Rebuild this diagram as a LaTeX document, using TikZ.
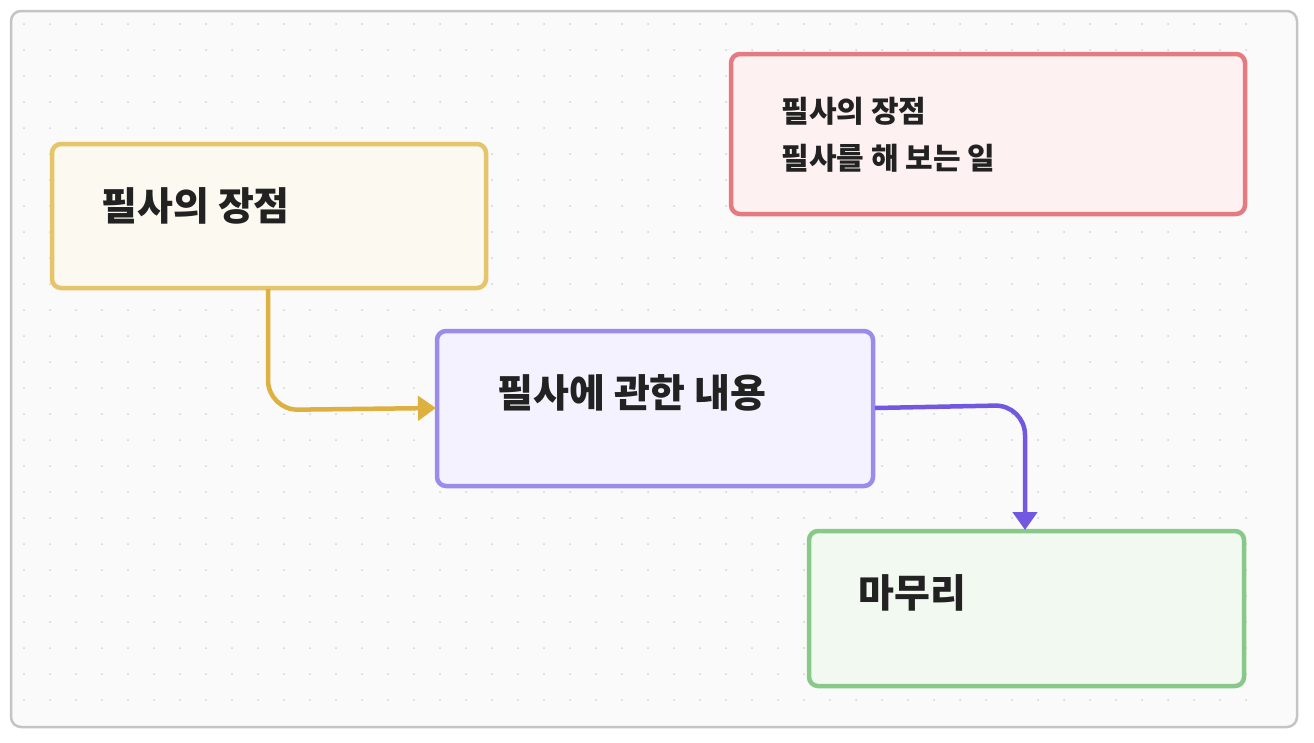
\documentclass[tikz,border=0pt]{standalone}
\usepackage{fontspec}
\newfontfamily\kr{Noto Sans CJK KR}
\usetikzlibrary{arrows.meta}
\definecolor{frameb}{HTML}{C4C4C4}
\definecolor{bg}{HTML}{FAFAFA}
\definecolor{yb}{HTML}{E5C46B}\definecolor{yf}{HTML}{FCF9F0}
\definecolor{rb}{HTML}{E57A80}\definecolor{rf}{HTML}{FDF1F1}
\definecolor{pb}{HTML}{9B8BEA}\definecolor{pf}{HTML}{F4F2FE}
\definecolor{gb}{HTML}{88C98A}\definecolor{gf}{HTML}{F2F9F0}
\definecolor{ya}{HTML}{DDB040}\definecolor{pa}{HTML}{7257E0}
\definecolor{txt}{HTML}{222222}
\tikzset{card/.style={draw, line width=4.5pt, rounded corners=9pt},
 lbl/.style={anchor=west, text=txt, font=\kr\bfseries\fontsize{39}{44}\selectfont},
 small/.style={anchor=west, text=txt, font=\kr\bfseries\fontsize{30}{36}\selectfont},
 conn/.style={line width=4.5pt, rounded corners=30pt, -{Triangle[length=18pt,width=24pt]}}}
\begin{document}
\begin{tikzpicture}[x=1pt,y=-1pt]
\useasboundingbox (0,0) rectangle (1314,742);
\draw[frameb, fill=bg, line width=2.5pt, rounded corners=10pt] (11,11) rectangle (1297,727);
\foreach \i in {0,...,47}{\foreach \j in {0,...,26}{
 \fill[black!18] (24+26*\i,24+26*\j) circle (1pt);}}
\draw[card, yb, fill=yf] (52,144) rectangle (486,288);
\draw[card, rb, fill=rf] (731,54) rectangle (1245,214);
\draw[card, pb, fill=pf] (437,331) rectangle (873,486);
\draw[card, gb, fill=gf] (809,531) rectangle (1244,686);
\node[small] (r1) at (778,111) {필사의 장점};
\node[small] (r2) at (778,158) {필사를 해 보는 일};
\node[lbl] (y) at (98,206) {필사의 장점};
\node[lbl] (pt) at (494,393) {필사에 관한 내용};
\node[lbl] (g) at (855,593) {마무리};
\coordinate (ya) at (268,289);
\coordinate (pin) at (436,408);
\coordinate (pout) at (875,408);
\coordinate (gin) at (1025,530);
\draw[conn, ya] (ya) -- (268,410) -- (pin);
\draw[conn, pa] (pout) -- (1025,405) -- (gin);
\end{tikzpicture}
\end{document}
